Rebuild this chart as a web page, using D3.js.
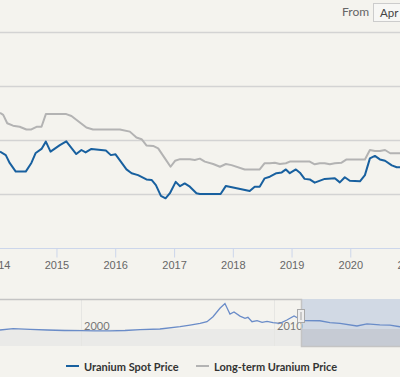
<!DOCTYPE html>
<html lang="en">
<head>
    <meta charset="UTF-8">
    <title>Uranium Price</title>
    <script src="https://d3js.org/d3.v7.min.js"></script>
    <style>
        body { margin: 0; background: #f4f3ee; }
        svg { display: block; font-family: Lato, "Open Sans", sans-serif; }
        .axis path, .axis line { stroke: #ccd6eb; }
        .axis text { fill: #666; font-size: 11px; }
    </style>
</head>
<body>
    <svg width="400" height="377"></svg>
    <script>
        // spot price, $/lb
        var spotDates = ["2014-01-15","2014-02-20","2014-03-16","2014-04-23","2014-06-24","2014-07-29","2014-08-25","2014-09-30","2014-10-27","2014-11-25",
            "2015-01-22","2015-03-03","2015-05-04","2015-06-05","2015-07-01","2015-08-06","2015-11-04","2015-12-05",
            "2016-01-03","2016-03-11","2016-04-12","2016-05-22","2016-07-13","2016-08-14","2016-09-10","2016-10-11","2016-11-09","2016-12-06",
            "2017-01-11","2017-02-07","2017-03-08","2017-04-09","2017-05-20","2017-06-10","2017-10-17","2017-11-19",
            "2018-01-25","2018-04-16","2018-05-17","2018-06-17","2018-07-18","2018-08-19","2018-09-29","2018-11-01","2018-11-27","2018-12-21",
            "2019-01-28","2019-02-22","2019-03-23","2019-04-24","2019-05-25","2019-07-26","2019-09-27","2019-10-28","2019-11-28","2019-12-29",
            "2020-03-01","2020-04-01","2020-05-02","2020-06-02","2020-07-03","2020-08-04","2020-09-15","2020-10-16","2020-11-06"];
        var spotValues = [35.7,34.4,31.5,28.3,28.3,31.5,35.2,36.7,39.4,35.7,
            38.1,39.5,34.8,36.3,35.4,36.7,36.1,34.4,
            34.7,29.1,27.7,27.0,25.4,25.2,23.3,19.3,18.4,20.3,
            24.5,22.9,23.9,22.7,20.3,20.0,20.0,23.0,
            22.1,21.1,22.7,22.7,25.8,26.4,27.7,28.0,29.1,27.7,
            29.1,27.9,25.6,25.4,24.2,25.6,25.8,24.3,26.2,24.9,
            24.7,27.0,33.2,34.1,32.8,32.3,30.6,29.9,29.9];

        // long-term price, $/lb
        var termDates = ["2014-01-15","2014-02-04","2014-03-01","2014-04-06","2014-05-17","2014-06-28","2014-07-29","2014-08-30","2014-09-30","2014-10-27",
            "2015-03-03","2015-04-04","2015-07-06","2015-08-16",
            "2016-01-30","2016-04-01","2016-05-12","2016-06-13","2016-07-13","2016-08-24","2016-09-24","2016-11-05","2016-12-10",
            "2017-01-07","2017-02-07","2017-04-09","2017-05-10","2017-06-10","2017-07-11","2017-09-01","2017-10-13","2017-11-19","2017-12-24",
            "2018-03-16","2018-06-17","2018-07-18","2018-08-19","2018-09-19","2018-10-20","2018-11-27","2018-12-21",
            "2019-04-24","2019-05-25","2019-06-25","2019-07-26","2019-08-27","2019-09-27","2019-11-08","2019-12-09",
            "2020-04-01","2020-05-02","2020-06-02","2020-07-03","2020-08-04","2020-09-05","2020-11-06"];
        var termValues = [50.1,49.3,46.2,45.3,44.9,43.9,43.9,44.9,44.9,49.6,
            49.6,48.9,44.6,43.9,
            43.9,43.1,40.9,40.3,38.0,37.8,36.9,33.2,30.1,
            32.3,32.9,32.9,32.6,33.1,32.0,31.1,30.1,31.1,30.7,
            29.1,29.1,31.4,31.4,31.6,31.1,31.4,32.0,
            32.0,31.0,31.4,31.4,31.0,31.4,31.6,32.8,
            32.8,36.3,35.9,35.9,36.3,35.1,35.1];

        // navigator (long history of spot price)
        var navDates = ["1995-10-19","1996-06-24","1997-05-12","1998-03-28","1999-02-14","2000-01-01","2000-09-24","2001-07-01","2002-04-12","2003-01-22",
            "2004-02-02","2005-02-17","2005-08-25","2006-03-03","2006-07-12","2006-11-03","2007-03-14","2007-06-17","2007-08-14","2007-09-20",
            "2007-12-05","2008-03-28","2008-07-01","2008-08-25","2008-11-10","2009-02-14","2009-05-20","2009-08-22","2009-12-13","2010-04-23",
            "2010-09-02","2011-01-15","2011-05-08","2011-07-20","2012-05-18","2012-11-24","2013-06-03","2014-04-20","2014-10-27","2015-06-27",
            "2016-01-04","2016-07-13"];
        var navValues = [11.7,17.8,15,11.7,9.3,8.4,7.2,8,9.3,13.6,
            16.4,27.2,35,43,50.6,74,113.5,136,105.5,86.7,
            96,77,66.6,71,50.6,55.3,47.8,52.5,46,43,
            58.6,77.4,62,55.3,55,46,43,30.5,40,36,
            35,27];

        var yTicks = [20, 40, 60, 80];
        var yearTicks = ["2014", "2015", "2016", "2017", "2018", "2019", "2020", "2021"];
        var navTicks = ["2000", "2010"];
        var seriesNames = ["Uranium Spot Price", "Long-term Uranium Price"];
        var seriesColors = ["#18609f", "#b3b3b3"];

        var parse = d3.timeParse("%Y-%m-%d");
        var parseYear = d3.timeParse("%Y");
        var svg = d3.select("svg");

        svg.append("rect").attr("width", 400).attr("height", 377).attr("fill", "#f4f3ee");

        // range selector input
        svg.append("text").attr("x", 342).attr("y", 16).attr("fill", "#666")
            .attr("font-size", "12px").text("From");
        svg.append("rect").attr("x", 373.5).attr("y", 3.5).attr("width", 34).attr("height", 18)
            .attr("fill", "#f7f7f5").attr("stroke", "#cccccc");
        svg.append("text").attr("x", 380).attr("y", 16.5).attr("fill", "#444")
            .attr("font-size", "11.5px").text("Apr");

        // main chart
        var x = d3.scaleTime().domain([parse("2014-01-15"), parse("2020-11-05")]).range([0, 400]);
        var y = d3.scaleLinear().domain([0, 80]).range([248, 32]);

        svg.append("g").selectAll("line")
            .data(yTicks).enter().append("line")
            .attr("x1", 0).attr("x2", 400)
            .attr("y1", function(d) { return Math.round(y(d)) + 0.5; })
            .attr("y2", function(d) { return Math.round(y(d)) + 0.5; })
            .attr("stroke", "#d3d3d3").attr("stroke-width", 1.3);

        var xAxis = svg.append("g").attr("class", "axis")
            .attr("transform", "translate(0,248.5)")
            .call(d3.axisBottom(x).tickValues(yearTicks.map(parseYear)).tickFormat(d3.timeFormat("%Y"))
                .tickSize(9).tickSizeOuter(0).tickPadding(4));
        xAxis.select(".domain").attr("d", "M0,0H400");

        var line = d3.line()
            .x(function(d) { return x(d[0]); })
            .y(function(d) { return y(d[1]); });

        var termData = termDates.map(function(d, i) { return [parse(d), termValues[i]]; });
        var spotData = spotDates.map(function(d, i) { return [parse(d), spotValues[i]]; });

        svg.append("path").datum(termData).attr("d", line)
            .attr("fill", "none").attr("stroke", seriesColors[1]).attr("stroke-width", 2)
            .attr("stroke-linejoin", "round");
        svg.append("path").datum(spotData).attr("d", line)
            .attr("fill", "none").attr("stroke", seriesColors[0]).attr("stroke-width", 2)
            .attr("stroke-linejoin", "round");

        // navigator
        var nx = d3.scaleTime().domain([parse("1995-10-19"), parse("2016-07-13")]).range([0, 400]);
        var ny = d3.scaleLinear().domain([7, 136]).range([331, 303.5]);

        svg.append("rect").attr("x", 0).attr("y", 329).attr("width", 400).attr("height", 17)
            .attr("fill", "#eaeae8");

        svg.append("g").selectAll("line")
            .data(navTicks).enter().append("line")
            .attr("x1", function(d) { return Math.round(nx(parseYear(d))) + 0.5; })
            .attr("x2", function(d) { return Math.round(nx(parseYear(d))) + 0.5; })
            .attr("y1", 299).attr("y2", 346)
            .attr("stroke", "#e6e6e3");

        svg.append("g").selectAll("text")
            .data(navTicks).enter().append("text")
            .attr("x", function(d) { return nx(parseYear(d)) + 3; })
            .attr("y", 330)
            .attr("fill", "#777").attr("font-size", "11px")
            .text(function(d) { return d; });

        var navData = navDates.map(function(d, i) { return [parse(d), navValues[i]]; });
        svg.append("path").datum(navData)
            .attr("d", d3.line().x(function(d) { return nx(d[0]); }).y(function(d) { return ny(d[1]); }))
            .attr("fill", "none").attr("stroke", "#6a8cc8").attr("stroke-width", 1.3);

        // selected range mask
        var maskLeft = 301;
        svg.append("rect").attr("x", maskLeft).attr("y", 299).attr("width", 400 - maskLeft).attr("height", 30)
            .attr("fill", "rgba(102,140,200,0.25)");
        svg.append("rect").attr("x", maskLeft).attr("y", 329).attr("width", 400 - maskLeft).attr("height", 17)
            .attr("fill", "rgba(90,110,150,0.25)");
        svg.append("path")
            .attr("d", "M0,299.5H" + (maskLeft + 0.5) + "V346.5H400")
            .attr("fill", "none").attr("stroke", "#c4c4c4").attr("stroke-width", 1.5);

        // handle
        svg.append("rect").attr("x", 297.5).attr("y", 309.5).attr("width", 7).attr("height", 13)
            .attr("fill", "#eeeeee").attr("stroke", "#a8a8a8");
        svg.append("rect").attr("x", 300).attr("y", 312).attr("width", 2).attr("height", 8)
            .attr("fill", "#c8c8c8");

        // legend
        var legend = svg.append("g").attr("transform", "translate(66,366)");
        var legendX = [0, 130];
        seriesNames.forEach(function(name, i) {
            legend.append("line")
                .attr("x1", legendX[i]).attr("x2", legendX[i] + 13)
                .attr("y1", 0).attr("y2", 0)
                .attr("stroke", seriesColors[i]).attr("stroke-width", 2);
            legend.append("text")
                .attr("x", legendX[i] + 18).attr("y", 4.5)
                .attr("fill", "#333").attr("font-size", "11px").attr("font-weight", "bold")
                .text(name);
        });
    </script>
</body>
</html>
